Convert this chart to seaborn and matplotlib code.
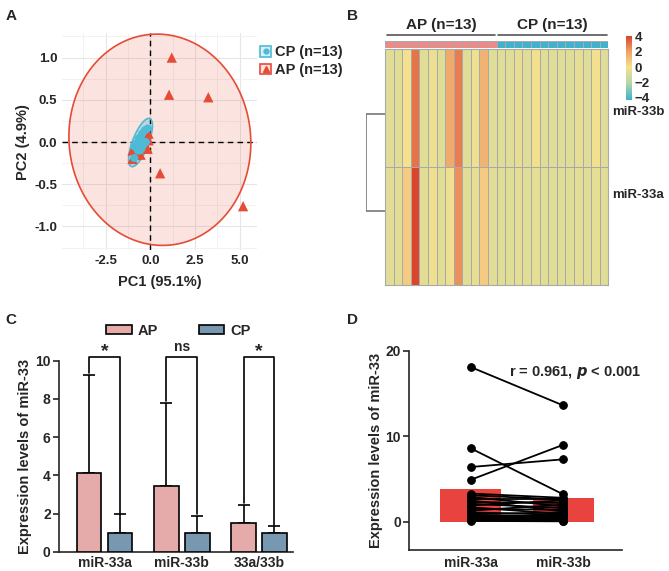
import matplotlib
matplotlib.use("Agg")
import matplotlib.pyplot as plt
import seaborn as sns
import numpy as np
import pandas as pd
from matplotlib.colors import LinearSegmentedColormap, ListedColormap
from matplotlib.patches import Polygon, Rectangle
from matplotlib.lines import Line2D
from matplotlib.legend_handler import HandlerTuple

sns.set_style("white")
plt.rcParams["font.family"] = ["Liberation Sans", "DejaVu Sans"]
plt.rcParams["font.weight"] = "bold"
plt.rcParams["axes.labelweight"] = "bold"

# ---- A: PCA scores
ap_pc1 = [1.2, 1.05, 3.25, 0.55, 5.2, -0.1, -0.1, -0.15, -0.6, -1.0, -0.55, -0.8, -1.0]
ap_pc2 = [1.0, 0.56, 0.53, -0.37, -0.76, 0.1, 0.02, -0.08, -0.05, -0.1, -0.15, -0.15, -0.2]
cp_pc1 = [-0.15, -0.25, -0.3, -0.4, -0.45, -0.5, -0.55, -0.6, -0.65, -0.7, -0.8, -0.9, -0.9]
cp_pc2 = [0.16, 0.0, 0.14, -0.03, 0.1, -0.08, 0.06, -0.1, 0.04, -0.1, -0.02, -0.19, -0.05]

# ---- B: row z-scores, 13 AP then 13 CP samples
mir33b_z = [-0.7, -0.7, -0.05, 3.0, -0.7, -0.3, -0.7, 1.8, 2.8, -0.7, -0.2, 1.5, -0.7,
            -0.75, -0.75, -0.45, -0.75, -0.1, -0.75, -0.75, -0.75, -0.75, -0.5, -0.75, -0.1, -0.75]
mir33a_z = [-0.65, -0.65, 0.7, 4.0, -0.65, -0.15, -0.65, -0.2, 2.4, -0.65, -0.45, 0.7, -0.65,
            -0.7, -0.7, -0.6, -0.7, -0.55, -0.7, -0.7, -0.7, -0.7, -0.6, -0.7, -0.55, -0.7]

# ---- C: mean +/- SD
c_groups = ["miR-33a", "miR-33b", "33a/33b"]
ap_mean = [4.1, 3.45, 1.52]
ap_sd = [5.15, 4.32, 0.93]
cp_mean = [1.0, 1.0, 1.0]
cp_sd = [0.95, 0.85, 0.32]
c_sig = ["*", "ns", "*"]

# ---- D: paired values
d_33a = [18.1, 8.6, 6.4, 4.9, 3.3, 3.1, 2.9, 2.7, 2.5, 2.3, 2.1, 1.9, 1.7, 1.5, 1.3,
         1.1, 0.9, 0.8, 0.7, 0.6, 0.5, 0.4, 0.3, 0.2, 0.15, 0.1]
d_33b = [13.6, 3.2, 7.3, 9.0, 2.8, 2.6, 1.8, 2.7, 1.2, 2.2, 1.6, 2.5, 0.9, 1.4, 2.0,
         0.8, 1.1, 0.6, 0.7, 0.5, 0.4, 0.3, 0.2, 0.15, 0.1, 0.05]
d_bar = [3.8, 2.75]

RED = "#E64B35"
CYAN = "#4DBBD5"

fig = plt.figure(figsize=(6.69, 5.71), dpi=100)


def ellipse_poly(x, y, scale=2.79, **kw):
    # stat_ellipse(type = "norm"): radius sqrt(2 * F(0.95, 2, n - 1)), n = 13
    cov = np.cov(x, y)
    t = np.linspace(0, 2 * np.pi, 200)
    circ = np.column_stack([np.cos(t), np.sin(t)])
    pts = np.array([np.mean(x), np.mean(y)]) + scale * circ @ np.linalg.cholesky(cov).T
    return Polygon(pts, closed=True, **kw)


# ================= A
axA = fig.add_axes([0.0927, 0.562, 0.292, 0.380])
pca = pd.DataFrame({
    "PC1": ap_pc1 + cp_pc1,
    "PC2": ap_pc2 + cp_pc2,
    "grp": ["AP"] * len(ap_pc1) + ["CP"] * len(cp_pc1),
})
axA.add_patch(ellipse_poly(ap_pc1, ap_pc2, facecolor=RED, alpha=0.15, edgecolor="none", zorder=1))
axA.add_patch(ellipse_poly(ap_pc1, ap_pc2, facecolor="none", edgecolor=RED, lw=1.2, zorder=3))
axA.add_patch(ellipse_poly(cp_pc1, cp_pc2, facecolor=CYAN, alpha=0.35, edgecolor="none", zorder=1))
axA.add_patch(ellipse_poly(cp_pc1, cp_pc2, facecolor="none", edgecolor=CYAN, lw=1.2, zorder=3))
sns.scatterplot(data=pca[pca.grp == "AP"], x="PC1", y="PC2", color=RED, marker="^",
                s=55, edgecolor="none", ax=axA, zorder=4, legend=False)
sns.scatterplot(data=pca[pca.grp == "CP"], x="PC1", y="PC2", color=CYAN, marker="o",
                s=34, edgecolor="none", ax=axA, zorder=5, legend=False)
axA.axhline(0, color="k", ls=(0, (4, 3)), lw=1, zorder=2)
axA.axvline(0, color="k", ls=(0, (4, 3)), lw=1, zorder=2)
axA.set_xlim(-4.95, 6.0)
axA.set_ylim(-1.28, 1.29)
axA.set_xticks([-2.5, 0, 2.5, 5.0])
axA.set_xticklabels(["-2.5", "0.0", "2.5", "5.0"])
axA.set_yticks([-1.0, -0.5, 0, 0.5, 1.0])
axA.set_yticklabels(["-1.0", "-0.5", "0.0", "0.5", "1.0"])
axA.set_xticks(np.arange(-3.75, 6.0, 2.5), minor=True)
axA.set_yticks(np.arange(-1.25, 1.3, 0.5), minor=True)
axA.grid(True, which="major", color="#E6E6E6", lw=0.8, zorder=0)
axA.grid(True, which="minor", color="#F0F0F0", lw=0.6, zorder=0)
axA.set_axisbelow(True)
for s in axA.spines.values():
    s.set_visible(False)
axA.tick_params(which="major", length=2.5, color="#333333", labelsize=9.5, pad=1)
axA.tick_params(which="minor", length=0)
axA.set_xlabel("PC1 (95.1%)", fontsize=10.5, labelpad=6)
axA.set_ylabel("PC2 (4.9%)", fontsize=10.5, labelpad=3)
hA = [
    (Rectangle((0, 0), 1, 1, facecolor="#D8F0F5", edgecolor=CYAN, lw=1.2),
     Line2D([], [], ls="none", marker="o", color=CYAN, markersize=3.5)),
    (Rectangle((0, 0), 1, 1, facecolor="#FBE0DC", edgecolor=RED, lw=1.2),
     Line2D([], [], ls="none", marker="^", color=RED, markersize=5)),
]
axA.legend(hA, ["CP (n=13)", "AP (n=13)"], handler_map={tuple: HandlerTuple(ndivide=1, pad=0)},
           loc="upper left", bbox_to_anchor=(0.985, 0.97), frameon=False, fontsize=10.5,
           handlelength=0.75, handleheight=0.75, handletextpad=0.25, labelspacing=0.25,
           borderaxespad=0)

# ================= B
hm = pd.DataFrame([mir33b_z, mir33a_z], index=["miR-33b", "miR-33a"])
n_ap = 13
cmap = LinearSegmentedColormap.from_list(
    "hm", [(0.0, "#3DB3D0"), (0.26, "#B5D7A8"), (0.512, "#F6E08E"), (0.756, "#EFA266"), (1.0, "#D9402A")])
axB = fig.add_axes([0.5755, 0.5009, 0.3338, 0.4128])
axAnn = fig.add_axes([0.5755, 0.9154, 0.3338, 0.0133])
cax = fig.add_axes([0.9357, 0.8249, 0.009, 0.1126])
axDen = fig.add_axes([0.5466, 0.5009, 0.0289, 0.4128])

sns.heatmap(hm, cmap=cmap, vmin=-4.3, vmax=4.1, linewidths=0.7, linecolor="#A9A9A9",
            cbar_ax=cax, xticklabels=False, ax=axB)
axB.yaxis.tick_right()
row_label_pos = [0.52, 1.22]
axB.set_yticks(row_label_pos)
axB.set_yticklabels(hm.index, rotation=0, fontsize=9.5)
axB.tick_params(axis="y", length=0, pad=3)
axB.set_xlabel("")
for s in axB.spines.values():
    s.set_visible(True)
    s.set_color("#A9A9A9")
cax.set_yticks([-4, -2, 0, 2, 4])
cax.set_yticklabels(["\u22124", "\u22122", "0", "2", "4"], fontsize=9.5)
cax.tick_params(length=0, pad=2)
for s in cax.spines.values():
    s.set_visible(False)

ann = pd.DataFrame([[0] * n_ap + [1] * (hm.shape[1] - n_ap)])
sns.heatmap(ann, cmap=ListedColormap(["#EE8A86", "#3FB2CC"]), cbar=False, linewidths=0.7,
            linecolor="#A9A9A9", xticklabels=False, yticklabels=False, ax=axAnn)
n_all = hm.shape[1]
for lo, hi, lab in [(0, n_ap, "AP (n=13)"), (n_ap, n_all, "CP (n=13)")]:
    axAnn.plot([lo + 0.2, hi - 0.2], [-0.75, -0.75], color="#555555", lw=1.2, clip_on=False)
    axAnn.text((lo + hi) / 2, -1.2, lab, ha="center", va="bottom", fontsize=11)

# dendrogram joining the two rows
axDen.set_xlim(1, 0)
axDen.set_ylim(hm.shape[0], 0)
leaves = [0.55, 1.37]
axDen.plot([0, 1, 1, 0], [leaves[0], leaves[0], leaves[1], leaves[1]], color="#777777", lw=1.2)
axDen.axis("off")

# ================= C
axC = fig.add_axes([0.0882, 0.0338, 0.3498, 0.3345])
bars = pd.DataFrame({
    "group": c_groups * 2,
    "cond": ["AP"] * 3 + ["CP"] * 3,
    "value": ap_mean + cp_mean,
})
sns.barplot(data=bars, x="group", y="value", hue="cond", palette={"AP": "#EFA1A0", "CP": "#6F98BA"},
            errorbar=None, width=0.8, gap=0.2, edgecolor="k", linewidth=1.2, ax=axC, zorder=3)
tops = []
for cont, sd in zip(axC.containers, [ap_sd, cp_sd]):
    xs = [r.get_x() + r.get_width() / 2 for r in cont]
    ys = [r.get_height() for r in cont]
    axC.errorbar(xs, ys, yerr=[np.zeros(len(sd)), sd], fmt="none", ecolor="k",
                 elinewidth=1.2, capsize=4, capthick=1.2, zorder=2)
    tops.append([(x, y + e) for x, y, e in zip(xs, ys, sd)])
for (xa, ta), (xc, tc), sig in zip(tops[0], tops[1], c_sig):
    axC.plot([xa, xa, xc, xc], [ta + 0.1, 10.2, 10.2, tc + 0.1], color="k", lw=1.2, clip_on=False)
    if sig == "*":
        axC.text((xa + xc) / 2, 10.05, sig, ha="center", va="bottom", fontsize=14)
    else:
        axC.text((xa + xc) / 2, 10.35, sig, ha="center", va="bottom", fontsize=10)
axC.set_ylim(0, 10)
axC.set_xlim(-0.59, 2.44)
axC.set_yticks([0, 2, 4, 6, 8, 10])
axC.set_xlabel("")
axC.set_ylabel("Expression levels of miR-33", fontsize=10.5, labelpad=2)
axC.tick_params(axis="y", length=4, width=1.2, labelsize=10, pad=2, left=True)
axC.tick_params(axis="x", length=0, labelsize=10, pad=3)
sns.despine(ax=axC)
for s in ["left", "bottom"]:
    axC.spines[s].set_linewidth(1.2)
axC.legend(loc="center", bbox_to_anchor=(0.51, 1.157), ncol=2, frameon=False, fontsize=10.5,
           handlelength=1.75, handleheight=0.6, columnspacing=2.8, handletextpad=0.4)

# ================= D
axD = fig.add_axes([0.6118, 0.0368, 0.3175, 0.349])
sns.barplot(x=["miR-33a", "miR-33b"], y=d_bar, color="#E94340", saturation=1, width=0.66,
            edgecolor="none", ax=axD, zorder=1)
pairs = pd.DataFrame({
    "id": list(range(len(d_33a))) * 2,
    "pos": [0] * len(d_33a) + [1] * len(d_33b),
    "val": d_33a + d_33b,
})
sns.lineplot(data=pairs, x="pos", y="val", units="id", estimator=None, color="k", lw=1.3,
             marker="o", markersize=5.5, markeredgecolor="k", ax=axD, zorder=3)
axD.set_xlim(-0.66, 1.63)
axD.set_ylim(-3.3, 20)
axD.set_yticks([0, 10, 20])
axD.set_xticks([0, 1])
axD.set_xticklabels(["miR-33a", "miR-33b"])
axD.set_xlabel("")
axD.set_ylabel("Expression levels of miR-33", fontsize=10.5, labelpad=2)
axD.tick_params(axis="y", length=4, width=1.2, labelsize=10, pad=2, left=True)
axD.tick_params(axis="x", length=0, labelsize=10, pad=4)
sns.despine(ax=axD)
for s in ["left", "bottom"]:
    axD.spines[s].set_linewidth(1.2)
axD.text(1.13, 17.5, "r = 0.961, $\\boldsymbol{p}$ < 0.001", ha="center", va="center", fontsize=10.5)

# panel letters
for lab, x, y in [("A", 0.008, 0.985), ("B", 0.518, 0.985), ("C", 0.008, 0.452), ("D", 0.518, 0.452)]:
    fig.text(x, y, lab, fontsize=11, fontweight="bold", va="top")

fig.savefig("out.png", dpi=100)
